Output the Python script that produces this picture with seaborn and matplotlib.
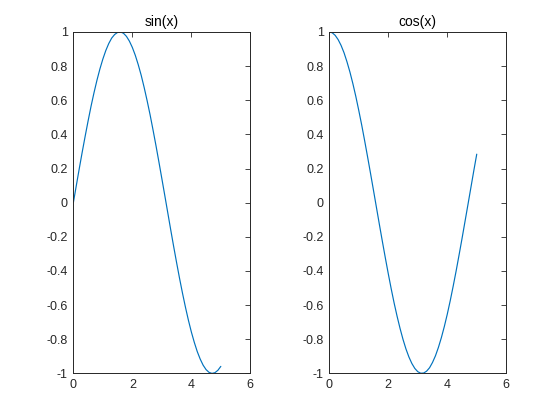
import matplotlib
matplotlib.use("Agg")
import matplotlib.pyplot as plt
import seaborn as sns
import pandas as pd
from matplotlib.ticker import FormatStrFormatter

x_vals = [0.0, 0.1, 0.2, 0.3, 0.4, 0.5, 0.6, 0.7, 0.8, 0.9,
          1.0, 1.1, 1.2, 1.3, 1.4, 1.5, 1.6, 1.7, 1.8, 1.9,
          2.0, 2.1, 2.2, 2.3, 2.4, 2.5, 2.6, 2.7, 2.8, 2.9,
          3.0, 3.1, 3.2, 3.3, 3.4, 3.5, 3.6, 3.7, 3.8, 3.9,
          4.0, 4.1, 4.2, 4.3, 4.4, 4.5, 4.6, 4.7, 4.8, 4.9, 5.0]

sin_vals = [0.000, 0.100, 0.199, 0.296, 0.389, 0.479, 0.565, 0.644, 0.717, 0.783,
            0.841, 0.891, 0.932, 0.964, 0.985, 0.997, 1.000, 0.992, 0.974, 0.946,
            0.909, 0.863, 0.808, 0.746, 0.675, 0.598, 0.516, 0.427, 0.335, 0.239,
            0.141, 0.042, -0.058, -0.158, -0.256, -0.351, -0.443, -0.530, -0.612, -0.688,
            -0.757, -0.818, -0.872, -0.916, -0.952, -0.978, -0.994, -1.000, -0.996, -0.982, -0.959]

cos_vals = [1.000, 0.995, 0.980, 0.955, 0.921, 0.878, 0.825, 0.765, 0.697, 0.622,
            0.540, 0.454, 0.362, 0.267, 0.170, 0.071, -0.029, -0.129, -0.227, -0.323,
            -0.416, -0.505, -0.589, -0.666, -0.737, -0.801, -0.857, -0.904, -0.942, -0.971,
            -0.990, -0.999, -0.998, -0.987, -0.967, -0.936, -0.897, -0.848, -0.791, -0.726,
            -0.654, -0.575, -0.490, -0.401, -0.307, -0.211, -0.112, -0.013, 0.087, 0.187, 0.284]

titles = ["sin(x)", "cos(x)"]
x_ticks = [0, 2, 4, 6]
y_ticks = [-1, -0.8, -0.6, -0.4, -0.2, 0, 0.2, 0.4, 0.6, 0.8, 1]

sns.set_style("white")
plt.rcParams['font.family'] = ['Liberation Sans', 'DejaVu Sans']
plt.rcParams['axes.unicode_minus'] = False

fig = plt.figure(figsize=(5.6, 4.2), dpi=100)
ax_pos = [[0.131, 0.111, 0.316, 0.813], [0.588, 0.111, 0.316, 0.813]]
dark = "#262626"
line_color = "#0072BD"

for pos, vals, title in zip(ax_pos, [sin_vals, cos_vals], titles):
    ax = fig.add_axes(pos)
    df = pd.DataFrame({"x": x_vals, "y": vals})
    sns.lineplot(data=df, x="x", y="y", ax=ax, color=line_color, linewidth=0.85)
    ax.set_xlim(0, 6)
    ax.set_ylim(-1, 1)
    ax.set_xticks(x_ticks)
    ax.set_yticks(y_ticks)
    ax.xaxis.set_major_formatter(FormatStrFormatter('%g'))
    ax.yaxis.set_major_formatter(FormatStrFormatter('%g'))
    ax.set_xlabel("")
    ax.set_ylabel("")
    ax.set_title(title, fontsize=10, color="black", pad=4)
    ax.tick_params(direction="in", length=3.5, width=0.6, colors=dark,
                   labelsize=9, top=True, right=True, pad=4)
    for sp in ax.spines.values():
        sp.set_visible(True)
        sp.set_color(dark)
        sp.set_linewidth(0.7)

fig.savefig("out.png", dpi=100)
